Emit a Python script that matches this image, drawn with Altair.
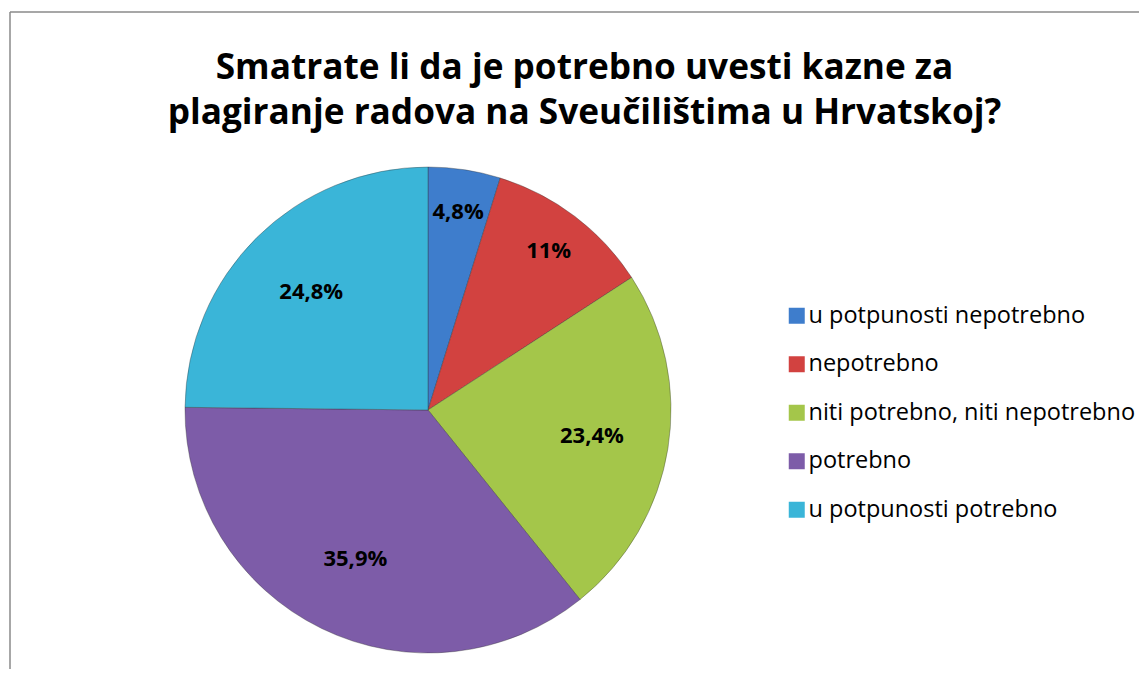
import altair as alt
import pandas as pd

# ---- data ----
kategorije = [
    "u potpunosti nepotrebno",
    "nepotrebno",
    "niti potrebno, niti nepotrebno",
    "potrebno",
    "u potpunosti potrebno",
]
postotci = [4.8, 11.0, 23.4, 35.9, 24.8]
oznake = ["4,8%", "11%", "23,4%", "35,9%", "24,8%"]
boje = ["#3E7DCC", "#D24240", "#A4C64A", "#7D5CA8", "#3AB5D8"]
naslov = [
    "Smatrate li da je potrebno uvesti kazne za",
    "plagiranje radova na Sveučilištima u Hrvatskoj?",
]

df = pd.DataFrame({
    "kategorija": kategorije,
    "postotak": postotci,
    "oznaka": oznake,
    "red": list(range(len(kategorije))),
})

CX, CY, R = 418, 398, 243

boja = alt.Color(
    "kategorija:N",
    sort=kategorije,
    scale=alt.Scale(domain=kategorije, range=boje),
    legend=alt.Legend(
        title=None,
        orient="none",
        legendX=775,
        legendY=292,
        symbolType="square",
        symbolSize=256,
        symbolStrokeWidth=0,
        labelFont="Open Sans",
        labelFontSize=23.5,
        labelColor="#000000",
        labelOffset=0,
        labelLimit=400,
        rowPadding=23.5,
    ),
)

pita = alt.Chart(df).mark_arc(
    outerRadius=R, stroke="#303030", strokeWidth=0.8, strokeOpacity=0.45
).encode(
    theta=alt.Theta("postotak:Q", stack=True),
    order=alt.Order("red:Q"),
    color=boja,
    x=alt.value(CX),
    y=alt.value(CY),
)

tekst_baza = alt.Chart(df).transform_window(
    kraj="sum(postotak)", sort=[alt.SortField("red")]
).transform_joinaggregate(
    ukupno="sum(postotak)"
).transform_calculate(
    kut="2 * PI * (datum.kraj - datum.postotak / 2) / datum.ukupno"
)

stil_oznake = dict(font="Open Sans", fontWeight="bold", fontSize=22, color="#000000")

velike = tekst_baza.transform_filter("datum.postotak >= 20").mark_text(
    radius=166, **stil_oznake
).encode(
    theta=alt.Theta("kut:Q", scale=None),
    text="oznaka:N",
    x=alt.value(CX),
    y=alt.value(CY),
)

male = tekst_baza.transform_filter("datum.postotak < 20").mark_text(
    radius=200, **stil_oznake
).encode(
    theta=alt.Theta("kut:Q", scale=None),
    text="oznaka:N",
    x=alt.value(CX),
    y=alt.value(CY),
)

# chart-area frame: left and top edges (right/bottom lie outside the picture)
okvir_data = pd.DataFrame({"okvir": [0]})
okvir_lijevo = alt.Chart(okvir_data).mark_rule(color="#8A8A8A", strokeWidth=1.5).encode(
    x=alt.value(0), y=alt.value(0), y2=alt.value("height")
)
okvir_gore = alt.Chart(okvir_data).mark_rule(color="#8A8A8A", strokeWidth=1.5).encode(
    x=alt.value(0), x2=alt.value("width"), y=alt.value(0)
)

chart = alt.layer(okvir_lijevo, okvir_gore, pita, velike, male).properties(
    width=1129,
    height=657,
    autosize=alt.AutoSizeParams(type="none"),
    padding={"left": 2, "top": 4, "right": 0, "bottom": 0},
    title=alt.TitleParams(
        text=naslov,
        font="Open Sans",
        fontSize=35.2,
        fontWeight="bold",
        color="#000000",
        anchor="middle",
        baseline="top",
        dx=10,
        offset=-120,
        lineHeight=45,
    ),
).configure_view(
    strokeWidth=0, fill="#FFFFFF"
)

chart.save("out.html", embed_options={"renderer": "svg", "actions": False})
